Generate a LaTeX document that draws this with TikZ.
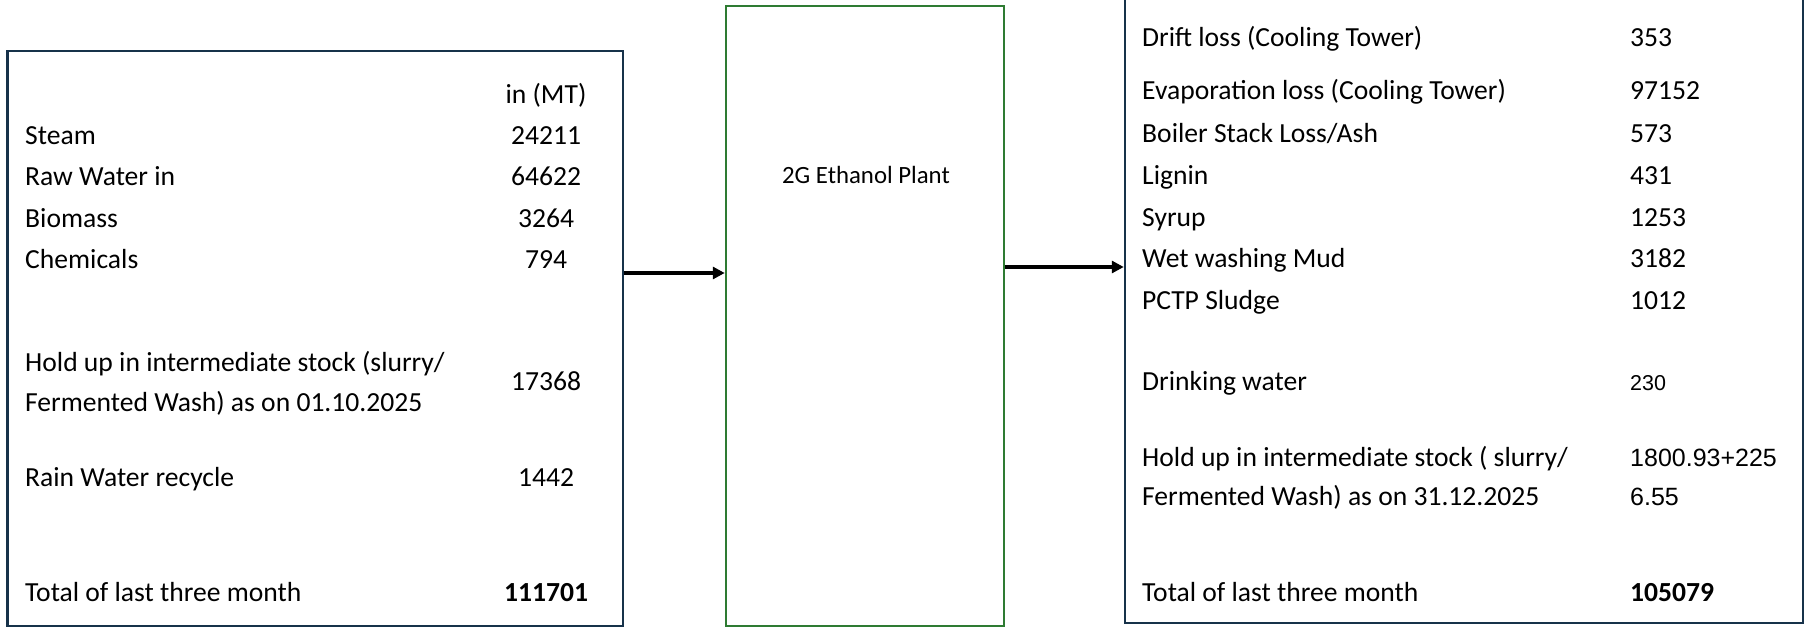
\documentclass[tikz,border=0pt]{standalone}
\usepackage{fontspec}
\setmainfont{Carlito}
\newfontfamily\arialf{Liberation Sans}
\usetikzlibrary{arrows.meta}
\definecolor{navy}{HTML}{17324A}
\definecolor{pgreen}{HTML}{2E7B32}
\tikzset{
  navybox/.style={draw=navy, line width=2.5pt, inner sep=0pt, rectangle},
  greenbox/.style={draw=pgreen, line width=2.5pt, inner sep=0pt, rectangle},
  txt/.style={anchor=base west, inner sep=0pt, font=\fontsize{27.6}{32}\selectfont},
  val/.style={anchor=base, inner sep=0pt, font=\fontsize{27.6}{32}\selectfont},
  rval/.style={anchor=base west, inner sep=0pt, font=\fontsize{27.6}{32}\selectfont},
  aval/.style={anchor=base west, inner sep=0pt, font=\arialf\fontsize{25}{30}\selectfont},
  arr/.style={line width=3.5pt, -{Triangle[length=12pt,width=12pt]}},
}
\begin{document}
\begin{tikzpicture}[x=1pt,y=-1pt]
\useasboundingbox (0,0) rectangle (1809,628);
\fill[white] (0,0) rectangle (1809,628);
% boxes
\node[navybox, minimum width=615.5pt, minimum height=575pt] (L) at (315.25,338.5) {};
\node[greenbox, minimum width=278pt, minimum height=620pt] (M) at (865,316) {};
\node[navybox, minimum width=678pt, minimum height=633pt] (R) at (1464,306.5) {};
\node[inner sep=0pt, font=\fontsize{24.8}{29}\selectfont] (plant) at (866,175) {2G Ethanol Plant};
% connectors
\coordinate (y1) at (0,273);
\coordinate (y2) at (0,267);
\draw[arr] (L.east |- y1) -- (M.west |- y1);
\draw[arr] (M.east |- y2) -- (R.west |- y2);
% left texts
\node[val] (lh) at (546,104) {in (MT)};
\node[txt] (l1) at (25,145) {Steam};
\node[val] (v1) at (546,145) {24211};
\node[txt] (l2) at (25,186) {Raw Water in};
\node[val] (v2) at (546,186) {64622};
\node[txt] (l3) at (25,228) {Biomass};
\node[val] (v3) at (546,228) {3264};
\node[txt] (l4) at (25,269) {Chemicals};
\node[val] (v4) at (546,269) {794};
\node[txt] (l5a) at (25,371) {Hold up in intermediate stock (slurry/};
\node[txt] (l5b) at (25,411) {Fermented Wash) as on 01.10.2025};
\node[val] (v5) at (546,390) {17368};
\node[txt] (l6) at (25,486) {Rain Water recycle};
\node[val] (v6) at (546,486) {1442};
\node[txt] (l7) at (25,601) {Total of last three month};
\node[val, font=\bfseries\fontsize{27.6}{32}\selectfont] (v7) at (546,601) {111701};
% right texts
\node[txt] (r1) at (1142,47) {Drift loss (Cooling Tower)};
\node[rval] (w1) at (1630,47) {353};
\node[txt] (r2) at (1142,100) {Evaporation loss (Cooling Tower)};
\node[rval] (w2) at (1630,100) {97152};
\node[txt] (r3) at (1142,143) {Boiler Stack Loss/Ash};
\node[rval] (w3) at (1630,143) {573};
\node[txt] (r4) at (1142,185) {Lignin};
\node[rval] (w4) at (1630,185) {431};
\node[txt] (r5) at (1142,227) {Syrup};
\node[rval] (w5) at (1630,227) {1253};
\node[txt] (r6) at (1142,268) {Wet washing Mud};
\node[rval] (w6) at (1630,268) {3182};
\node[txt] (r7) at (1142,309) {PCTP Sludge};
\node[rval] (w7) at (1630,309) {1012};
\node[txt] (r8) at (1142,390) {Drinking water};
\node[aval, font=\arialf\fontsize{21.5}{26}\selectfont] (w8) at (1630,390) {230};
\node[txt] (r9a) at (1142,466) {Hold up in intermediate stock ( slurry/};
\node[txt] (r9b) at (1142,505) {Fermented Wash) as on 31.12.2025};
\node[aval] (w9a) at (1630,466) {1800.93+225};
\node[aval] (w9b) at (1630,505) {6.55};
\node[txt] (r10) at (1142,601) {Total of last three month};
\node[rval, font=\bfseries\fontsize{27.6}{32}\selectfont] (w10) at (1630,601) {105079};
\end{tikzpicture}
\end{document}
